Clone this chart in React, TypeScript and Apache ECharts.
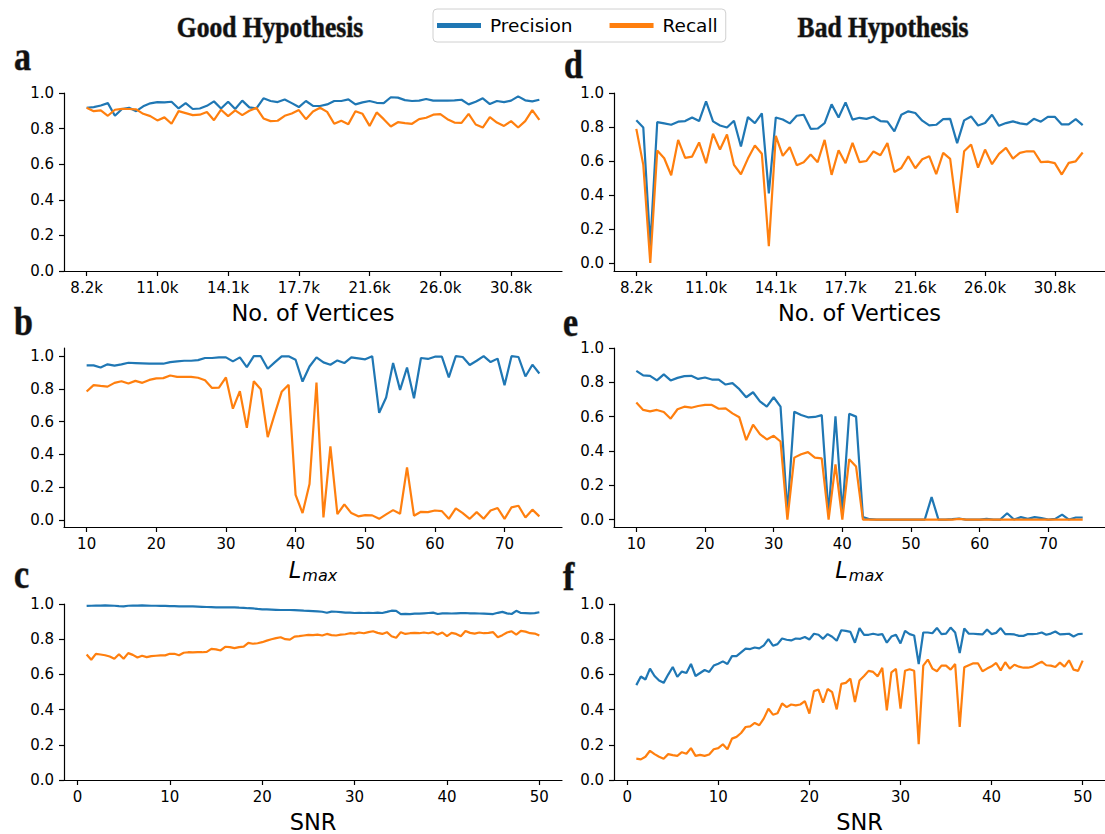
import React, { useEffect, useRef } from 'react';
import * as echarts from 'echarts';

// ---------- tick labels / axes ----------
const vertexTickIndex = [0, 10, 20, 30, 40, 50, 60];
const vertexTickLabels = ['8.2k', '11.0k', '14.1k', '17.7k', '21.6k', '26.0k', '30.8k'];
const lmaxTicks = [10, 20, 30, 40, 50, 60, 70];
const snrTicks = [0, 10, 20, 30, 40, 50];
const yTicks = [0, 0.2, 0.4, 0.6, 0.8, 1.0];

// sampling grids of the x axes
const vertexIndex = Array.from({ length: 65 }, (_, i) => i);
const lmaxValues = Array.from({ length: 66 }, (_, i) => 10 + i);
const snrValues = Array.from({ length: 99 }, (_, i) => 1 + 0.5 * i);

// ---------- a: good hypothesis vs. no. of vertices ----------
const aPrecision = [
  0.917, 0.921, 0.930, 0.943, 0.872, 0.910, 0.917, 0.898, 0.925, 0.942,
  0.949, 0.947, 0.951, 0.913, 0.943, 0.910, 0.913, 0.928, 0.953, 0.913,
  0.951, 0.910, 0.957, 0.919, 0.913, 0.970, 0.955, 0.949, 0.964, 0.943,
  0.921, 0.955, 0.928, 0.927, 0.936, 0.955, 0.955, 0.964, 0.936, 0.947,
  0.955, 0.945, 0.943, 0.976, 0.974, 0.960, 0.955, 0.957, 0.966, 0.957,
  0.957, 0.957, 0.959, 0.962, 0.936, 0.951, 0.970, 0.938, 0.955, 0.949,
  0.957, 0.981, 0.959, 0.953, 0.962,
];
const aRecall = [
  0.917, 0.898, 0.902, 0.872, 0.906, 0.911, 0.910, 0.908, 0.883, 0.870,
  0.846, 0.863, 0.827, 0.898, 0.887, 0.876, 0.878, 0.893, 0.847, 0.906,
  0.870, 0.902, 0.876, 0.900, 0.917, 0.857, 0.842, 0.844, 0.872, 0.885,
  0.904, 0.853, 0.896, 0.917, 0.894, 0.827, 0.844, 0.825, 0.898, 0.883,
  0.815, 0.891, 0.853, 0.812, 0.836, 0.831, 0.827, 0.853, 0.861, 0.878,
  0.881, 0.853, 0.834, 0.832, 0.883, 0.823, 0.806, 0.864, 0.834, 0.815,
  0.842, 0.806, 0.842, 0.904, 0.849,
];

// ---------- d: bad hypothesis vs. no. of vertices ----------
const dPrecision = [
  0.839, 0.797, 0.100, 0.829, 0.821, 0.813, 0.831, 0.835, 0.856, 0.835,
  0.951, 0.833, 0.809, 0.797, 0.837, 0.685, 0.858, 0.823, 0.880, 0.409,
  0.856, 0.844, 0.821, 0.866, 0.872, 0.789, 0.791, 0.823, 0.933, 0.856,
  0.945, 0.843, 0.854, 0.848, 0.860, 0.835, 0.831, 0.774, 0.872, 0.892,
  0.882, 0.837, 0.809, 0.813, 0.846, 0.848, 0.705, 0.839, 0.862, 0.809,
  0.823, 0.872, 0.807, 0.823, 0.833, 0.821, 0.815, 0.848, 0.831, 0.860,
  0.860, 0.815, 0.815, 0.846, 0.811,
];
const dRecall = [
  0.789, 0.577, 0.000, 0.661, 0.616, 0.516, 0.724, 0.618, 0.626, 0.709,
  0.587, 0.760, 0.667, 0.756, 0.577, 0.522, 0.614, 0.691, 0.642, 0.098,
  0.748, 0.630, 0.681, 0.575, 0.593, 0.638, 0.593, 0.724, 0.518, 0.663,
  0.587, 0.707, 0.593, 0.600, 0.656, 0.634, 0.705, 0.535, 0.559, 0.628,
  0.557, 0.610, 0.628, 0.522, 0.648, 0.612, 0.295, 0.657, 0.697, 0.561,
  0.667, 0.581, 0.642, 0.677, 0.614, 0.648, 0.657, 0.657, 0.593, 0.596,
  0.587, 0.520, 0.589, 0.598, 0.650,
];

// ---------- b: good hypothesis vs. Lmax ----------
const bPrecision = [
  0.944, 0.944, 0.931, 0.950, 0.942, 0.950, 0.960, 0.958, 0.956, 0.954,
  0.954, 0.954, 0.964, 0.968, 0.972, 0.972, 0.976, 0.989, 0.989, 0.993,
  0.993, 0.968, 0.993, 0.933, 1.000, 1.000, 0.923, 0.962, 0.999, 0.999,
  0.978, 0.845, 0.937, 0.993, 0.962, 0.948, 0.974, 0.958, 0.993, 0.987,
  0.981, 1.000, 0.654, 0.747, 0.958, 0.794, 0.931, 0.743, 0.989, 0.983,
  0.997, 0.997, 0.870, 1.000, 0.995, 0.946, 0.972, 1.000, 0.964, 0.985,
  0.823, 1.000, 0.995, 0.876, 0.948, 0.894,
];
const bRecall = [
  0.784, 0.823, 0.818, 0.814, 0.837, 0.847, 0.833, 0.849, 0.837, 0.855,
  0.864, 0.866, 0.882, 0.874, 0.874, 0.874, 0.868, 0.853, 0.806, 0.808,
  0.870, 0.679, 0.786, 0.562, 0.847, 0.798, 0.505, 0.646, 0.782, 0.825,
  0.152, 0.041, 0.219, 0.839, 0.014, 0.449, 0.035, 0.094, 0.041, 0.021,
  0.029, 0.027, 0.006, 0.033, 0.059, 0.037, 0.320, 0.025, 0.049, 0.047,
  0.057, 0.053, 0.006, 0.070, 0.041, 0.006, 0.047, 0.006, 0.057, 0.072,
  0.006, 0.076, 0.086, 0.014, 0.062, 0.021,
];

// ---------- e: bad hypothesis vs. Lmax ----------
const ePrecision = [
  0.867, 0.840, 0.838, 0.811, 0.846, 0.811, 0.826, 0.836, 0.838, 0.820,
  0.828, 0.816, 0.816, 0.787, 0.795, 0.760, 0.713, 0.742, 0.689, 0.658,
  0.713, 0.658, 0.040, 0.629, 0.609, 0.596, 0.598, 0.609, 0.030, 0.602,
  0.040, 0.617, 0.600, 0.014, 0.002, 0.000, 0.000, 0.000, 0.000, 0.000,
  0.000, 0.000, 0.000, 0.131, 0.000, 0.000, 0.002, 0.006, 0.000, 0.000,
  0.000, 0.004, 0.000, 0.000, 0.037, 0.000, 0.014, 0.004, 0.014, 0.008,
  0.000, 0.004, 0.029, 0.000, 0.012, 0.012,
];
const eRecall = [
  0.682, 0.639, 0.631, 0.639, 0.627, 0.588, 0.643, 0.658, 0.652, 0.662,
  0.668, 0.668, 0.646, 0.648, 0.619, 0.596, 0.463, 0.553, 0.498, 0.467,
  0.488, 0.455, 0.000, 0.361, 0.381, 0.393, 0.361, 0.357, 0.000, 0.322,
  0.000, 0.352, 0.309, 0.000, 0.000, 0.000, 0.000, 0.000, 0.000, 0.000,
  0.000, 0.000, 0.000, 0.000, 0.000, 0.000, 0.000, 0.004, 0.000, 0.000,
  0.000, 0.000, 0.000, 0.000, 0.000, 0.000, 0.000, 0.000, 0.000, 0.000,
  0.000, 0.000, 0.000, 0.000, 0.000, 0.000,
];

// ---------- c: good hypothesis vs. SNR ----------
const cPrecision = [
  0.989, 0.990, 0.991, 0.991, 0.992, 0.991, 0.990, 0.988, 0.987, 0.990,
  0.991, 0.991, 0.992, 0.991, 0.990, 0.990, 0.989, 0.989, 0.988, 0.988,
  0.987, 0.987, 0.986, 0.986, 0.985, 0.984, 0.983, 0.982, 0.981, 0.981,
  0.981, 0.981, 0.981, 0.979, 0.978, 0.976, 0.975, 0.972, 0.970, 0.969,
  0.968, 0.967, 0.966, 0.966, 0.966, 0.965, 0.964, 0.962, 0.961, 0.960,
  0.958, 0.956, 0.950, 0.957, 0.956, 0.954, 0.951, 0.951, 0.949, 0.950,
  0.949, 0.950, 0.949, 0.951, 0.949, 0.955, 0.962, 0.961, 0.942, 0.944,
  0.943, 0.945, 0.945, 0.947, 0.949, 0.951, 0.943, 0.947, 0.947, 0.946,
  0.947, 0.948, 0.949, 0.947, 0.947, 0.946, 0.945, 0.944, 0.943, 0.950,
  0.955, 0.947, 0.943, 0.961, 0.949, 0.948, 0.947, 0.948, 0.953,
];
const cRecall = [
  0.713, 0.683, 0.717, 0.713, 0.709, 0.702, 0.689, 0.715, 0.689, 0.721,
  0.711, 0.696, 0.706, 0.698, 0.704, 0.706, 0.708, 0.708, 0.717, 0.717,
  0.709, 0.723, 0.726, 0.725, 0.726, 0.726, 0.728, 0.745, 0.742, 0.736,
  0.757, 0.755, 0.749, 0.755, 0.758, 0.779, 0.774, 0.777, 0.783, 0.792,
  0.800, 0.806, 0.811, 0.800, 0.798, 0.815, 0.817, 0.821, 0.825, 0.823,
  0.826, 0.821, 0.830, 0.823, 0.821, 0.826, 0.828, 0.834, 0.832, 0.838,
  0.834, 0.840, 0.845, 0.836, 0.830, 0.840, 0.817, 0.808, 0.840, 0.830,
  0.834, 0.836, 0.834, 0.838, 0.834, 0.840, 0.826, 0.838, 0.817, 0.836,
  0.830, 0.817, 0.847, 0.836, 0.832, 0.838, 0.834, 0.836, 0.840, 0.811,
  0.823, 0.838, 0.845, 0.826, 0.847, 0.843, 0.834, 0.832, 0.821,
];

// ---------- f: bad hypothesis vs. SNR ----------
const fPrecision = [
  0.539, 0.588, 0.571, 0.633, 0.591, 0.565, 0.552, 0.599, 0.642, 0.586,
  0.616, 0.608, 0.659, 0.591, 0.608, 0.625, 0.614, 0.650, 0.661, 0.674,
  0.659, 0.704, 0.704, 0.725, 0.746, 0.744, 0.753, 0.748, 0.765, 0.800,
  0.763, 0.772, 0.804, 0.797, 0.793, 0.804, 0.802, 0.812, 0.798, 0.831,
  0.825, 0.802, 0.829, 0.814, 0.791, 0.851, 0.847, 0.842, 0.780, 0.863,
  0.825, 0.825, 0.831, 0.825, 0.829, 0.780, 0.815, 0.825, 0.776, 0.847,
  0.829, 0.821, 0.659, 0.838, 0.838, 0.834, 0.864, 0.829, 0.832, 0.866,
  0.838, 0.721, 0.861, 0.831, 0.831, 0.829, 0.827, 0.855, 0.829, 0.836,
  0.863, 0.829, 0.829, 0.827, 0.819, 0.819, 0.829, 0.829, 0.831, 0.838,
  0.825, 0.832, 0.844, 0.827, 0.829, 0.831, 0.815, 0.829, 0.831,
];
const fRecall = [
  0.121, 0.117, 0.132, 0.166, 0.147, 0.132, 0.121, 0.147, 0.141, 0.137,
  0.158, 0.149, 0.181, 0.137, 0.143, 0.137, 0.145, 0.175, 0.181, 0.203,
  0.175, 0.235, 0.245, 0.267, 0.301, 0.305, 0.324, 0.311, 0.350, 0.405,
  0.371, 0.379, 0.435, 0.414, 0.429, 0.424, 0.429, 0.448, 0.377, 0.505,
  0.514, 0.439, 0.517, 0.499, 0.401, 0.546, 0.552, 0.576, 0.443, 0.565,
  0.591, 0.620, 0.614, 0.589, 0.637, 0.395, 0.612, 0.631, 0.405, 0.621,
  0.629, 0.621, 0.203, 0.650, 0.684, 0.633, 0.618, 0.650, 0.650, 0.627,
  0.659, 0.301, 0.640, 0.652, 0.663, 0.663, 0.618, 0.633, 0.646, 0.665,
  0.623, 0.669, 0.633, 0.655, 0.644, 0.638, 0.638, 0.644, 0.659, 0.672,
  0.652, 0.650, 0.642, 0.667, 0.644, 0.680, 0.627, 0.620, 0.678,
];

const BLUE = '#1f77b4';
const ORANGE = '#ff7f0e';
const FONT = 'DejaVu Sans';

function pairs(xs: number[], ys: number[]) {
  return ys.map((y, i) => [xs[i], y]);
}

function makeX(gridIndex: number, min: number, max: number, ticks: number[], formatter: any, name: string, nameTextStyle: any) {
  return {
    type: 'value', gridIndex, min, max,
    axisLine: { show: true, onZero: false, lineStyle: { color: '#000', width: 1.2 } },
    axisTick: { show: true, customValues: ticks, length: 5, lineStyle: { color: '#000', width: 1.2 } },
    axisLabel: { customValues: ticks, formatter, color: '#000', fontSize: 15, fontFamily: FONT, margin: 9 },
    splitLine: { show: false },
    name, nameLocation: 'middle', nameGap: 30, nameTextStyle,
  };
}
function makeY(gridIndex: number, min: number, max: number) {
  return {
    type: 'value', gridIndex, min, max,
    axisLine: { show: true, onZero: false, lineStyle: { color: '#000', width: 1.2 } },
    axisTick: { show: true, customValues: yTicks, length: 5, lineStyle: { color: '#000', width: 1.2 } },
    axisLabel: { customValues: yTicks, formatter: (v: number) => v.toFixed(1), color: '#000', fontSize: 15, fontFamily: FONT, margin: 10 },
    splitLine: { show: false },
  };
}

const plainName = { color: '#000', fontSize: 22.5, fontFamily: FONT };
const lmaxName = {
  color: '#000',
  rich: {
    l: { fontStyle: 'italic', fontSize: 22.5, fontFamily: FONT, color: '#000' },
    s: { fontStyle: 'italic', fontSize: 16, fontFamily: FONT, color: '#000', padding: [10, 0, 0, 1] },
  },
};
const vertexFmt = (v: number) => vertexTickLabels[vertexTickIndex.indexOf(Math.round(v))] ?? '';
const numFmt = (v: number) => String(Math.round(v));

function lineSeries(name: string, color: string, axis: number, data: number[][]) {
  return {
    type: 'line', name, xAxisIndex: axis, yAxisIndex: axis, data,
    showSymbol: false, symbol: 'none', lineStyle: { color, width: 2.2 }, itemStyle: { color },
  };
}

function label(text: string, x: number, y: number, size: number, sx: number, align: string) {
  return {
    type: 'text', x, y, scaleX: sx,
    style: {
      text, fill: '#111', stroke: '#8a8a8a', lineWidth: 1,
      font: `bold ${size}px "Liberation Serif"`,
      textAlign: align, textVerticalAlign: 'middle', verticalAlign: 'middle',
    },
  };
}

export default function App() {
  const ref = useRef<HTMLDivElement>(null);
  useEffect(() => {
    if (!ref.current) return;
    const chart = echarts.init(ref.current, null, { renderer: 'svg', width: 1105, height: 834 });
    const option: any = {
      animation: false,
      backgroundColor: '#fff',
      textStyle: { fontFamily: FONT },
      grid: [
        { left: 64, top: 93, width: 498, height: 178 },
        { left: 64, top: 348, width: 498, height: 179 },
        { left: 64, top: 604, width: 498, height: 178 },
        { left: 614, top: 93, width: 497, height: 178 },
        { left: 614, top: 348, width: 497, height: 179 },
        { left: 614, top: 604, width: 497, height: 178 },
      ],
      xAxis: [
        makeX(0, -3.2, 67.2, vertexTickIndex, vertexFmt, 'No. of Vertices', plainName),
        makeX(1, 6.75, 78.25, lmaxTicks, numFmt, '{l|L}{s|max}', lmaxName),
        makeX(2, -1.45, 52.45, snrTicks, numFmt, 'SNR', plainName),
        makeX(3, -3.2, 67.2, vertexTickIndex, vertexFmt, 'No. of Vertices', plainName),
        makeX(4, 6.75, 78.25, lmaxTicks, numFmt, '{l|L}{s|max}', lmaxName),
        makeX(5, -1.45, 52.45, snrTicks, numFmt, 'SNR', plainName),
      ],
      yAxis: [
        makeY(0, 0, 1),
        makeY(1, -0.044, 1.05),
        makeY(2, 0, 1),
        makeY(3, -0.0476, 1),
        makeY(4, -0.0434, 1),
        makeY(5, 0, 1),
      ],
      legend: {
        data: ['Precision', 'Recall'], left: 433, top: 9, orient: 'horizontal',
        icon: 'rect', itemWidth: 44, itemHeight: 5, itemGap: 37,
        padding: [7, 8, 7, 4], borderColor: '#d0d0d0', borderWidth: 1, borderRadius: 4,
        backgroundColor: '#fff',
        textStyle: { fontSize: 18.5, fontFamily: FONT, color: '#000', padding: [0, 0, 0, 4] },
      },
      series: [
        lineSeries('Precision', BLUE, 0, pairs(vertexIndex, aPrecision)),
        lineSeries('Recall', ORANGE, 0, pairs(vertexIndex, aRecall)),
        lineSeries('Precision', BLUE, 1, pairs(lmaxValues, bPrecision)),
        lineSeries('Recall', ORANGE, 1, pairs(lmaxValues, bRecall)),
        lineSeries('Precision', BLUE, 2, pairs(snrValues, cPrecision)),
        lineSeries('Recall', ORANGE, 2, pairs(snrValues, cRecall)),
        lineSeries('Precision', BLUE, 3, pairs(vertexIndex, dPrecision)),
        lineSeries('Recall', ORANGE, 3, pairs(vertexIndex, dRecall)),
        lineSeries('Precision', BLUE, 4, pairs(lmaxValues, ePrecision)),
        lineSeries('Recall', ORANGE, 4, pairs(lmaxValues, eRecall)),
        lineSeries('Precision', BLUE, 5, pairs(snrValues, fPrecision)),
        lineSeries('Recall', ORANGE, 5, pairs(snrValues, fRecall)),
      ],
      graphic: [
        label('Good Hypothesis', 270, 27, 29, 0.88, 'center'),
        label('Bad Hypothesis', 883, 27, 29, 0.88, 'center'),
        label('a', 14, 57, 40, 0.85, 'left'),
        label('b', 14, 322, 40, 0.85, 'left'),
        label('c', 14, 575, 40, 0.85, 'left'),
        label('d', 564, 65, 40, 0.85, 'left'),
        label('e', 563, 323, 40, 0.85, 'left'),
        label('f', 563, 577, 40, 0.85, 'left'),
      ],
    };
    chart.setOption(option);
    return () => chart.dispose();
  }, []);
  return <div ref={ref} style={{ position: 'fixed', left: 0, top: 0, width: 1105, height: 834, background: '#fff' }} />;
}
